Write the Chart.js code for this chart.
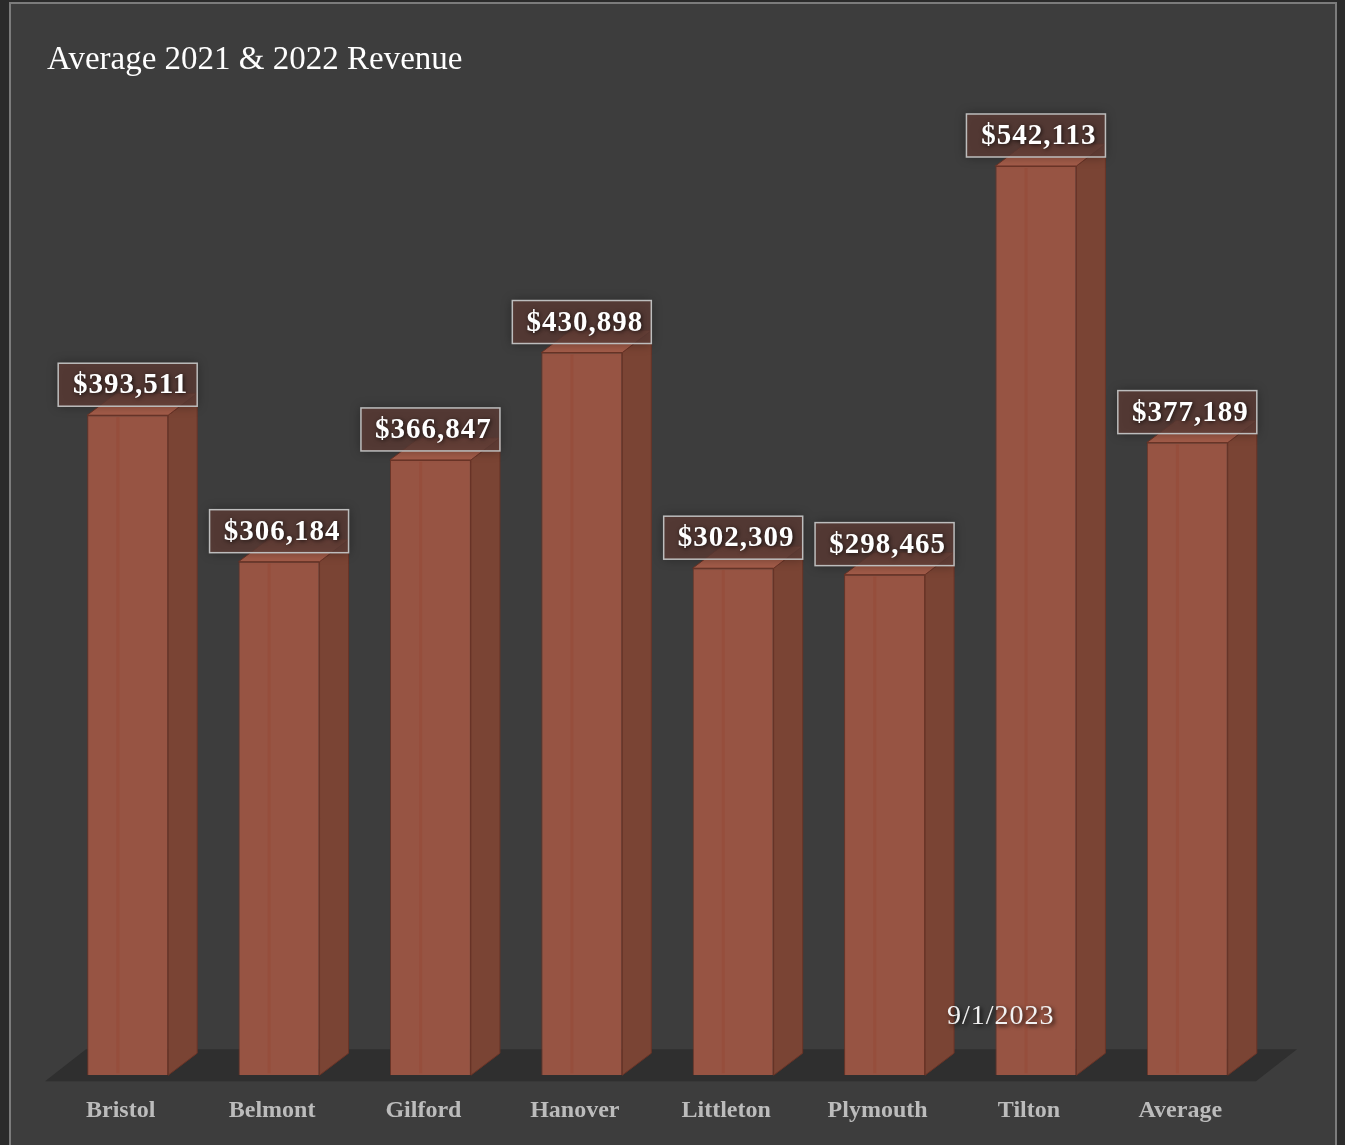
<!DOCTYPE html>
<html>
<head>
<meta charset="utf-8">
<script src="https://cdn.jsdelivr.net/npm/chart.js@4"></script>
<style>
  html, body { margin: 0; padding: 0; background: #2b2b2b; }
  #frame {
    position: absolute; left: 9px; top: 2px;
    width: 1324px; height: 1143px;
    border: 2px solid #7c7c7c; border-bottom: none;
    background: #3d3d3d;
  }
  #chart { display: block; }
</style>
</head>
<body>
<div id="frame"><canvas id="chart" width="1324" height="1143"></canvas></div>
<script>
/* ══════════════════════════════════════
   Average 2021 & 2022 Revenue — 3D bars
══════════════════════════════════════ */

const towns   = ['Bristol', 'Belmont', 'Gilford', 'Hanover', 'Littleton', 'Plymouth', 'Tilton', 'Average'];
const revenue = [393511, 306184, 366847, 430898, 302309, 298465, 542113, 377189];
const titleText = 'Average 2021 & 2022 Revenue';
const dateText  = '9/1/2023';

// ── STYLE ─────────────────────────────
const FRONT   = '#975443';
const SIDE    = '#7a4434';
const TOP     = '#a35c49';
const EDGE    = '#6a3427';
const DEPTH   = { dx: 29, dy: -22 };   // bar extrusion
const FLOOR   = { dx: 41, dy: -32 };   // floor extrusion
const SERIF   = '"Liberation Serif", "DejaVu Serif", serif';

const money = v => '$' + v.toLocaleString('en-US');

// ── TITLE + FLOOR ─────────────────────
const floorPlugin = {
  id: 'floor',
  beforeDatasetsDraw(chart) {
    const { ctx, chartArea: a, scales: { y } } = chart;

    ctx.save();
    ctx.font = `33px ${SERIF}`;
    ctx.fillStyle = '#ffffff';
    ctx.textBaseline = 'alphabetic';
    ctx.fillText(titleText, 36, 65);
    ctx.restore();

    const base = y.getPixelForValue(0);
    const fy = base + 6;
    const fl = a.left - 7, fr = a.right - 7;
    ctx.save();
    ctx.fillStyle = '#2f2f2f';
    ctx.beginPath();
    ctx.moveTo(fl, fy);
    ctx.lineTo(fl + FLOOR.dx, fy + FLOOR.dy);
    ctx.lineTo(fr + FLOOR.dx, fy + FLOOR.dy);
    ctx.lineTo(fr, fy);
    ctx.closePath();
    ctx.fill();
    ctx.restore();
  },
};

// ── 3D FACES + VALUE BOXES ────────────
const cubePlugin = {
  id: 'cube',
  beforeDatasetsDraw(chart) {
    const { ctx } = chart;
    const meta = chart.getDatasetMeta(0);
    ctx.save();
    ctx.lineWidth = 1;
    ctx.strokeStyle = EDGE;
    meta.data.forEach(bar => {
      const l = bar.x - bar.width / 2, r = bar.x + bar.width / 2;
      const t = bar.y, b = bar.base;
      // side
      ctx.fillStyle = SIDE;
      ctx.beginPath();
      ctx.moveTo(r, t);
      ctx.lineTo(r + DEPTH.dx, t + DEPTH.dy);
      ctx.lineTo(r + DEPTH.dx, b + DEPTH.dy);
      ctx.lineTo(r, b);
      ctx.closePath();
      ctx.fill(); ctx.stroke();
      // top
      ctx.fillStyle = TOP;
      ctx.beginPath();
      ctx.moveTo(l, t);
      ctx.lineTo(l + DEPTH.dx, t + DEPTH.dy);
      ctx.lineTo(r + DEPTH.dx, t + DEPTH.dy);
      ctx.lineTo(r, t);
      ctx.closePath();
      ctx.fill(); ctx.stroke();
    });
    ctx.restore();
  },
  afterDatasetsDraw(chart) {
    const { ctx } = chart;
    const meta = chart.getDatasetMeta(0);
    ctx.save();
    // faint reflection line on the front faces
    meta.data.forEach(bar => {
      const l = bar.x - bar.width / 2;
      ctx.fillStyle = 'rgba(150,70,50,0.35)';
      ctx.fillRect(l + bar.width * 0.36, bar.y + 2, 3, bar.base - bar.y - 4);
    });

    ctx.font = `bold 29px ${SERIF}`;
    ctx.letterSpacing = '1px';
    ctx.textAlign = 'center';
    ctx.textBaseline = 'middle';
    meta.data.forEach((bar, i) => {
      const w = 139, h = 43;
      const bx = bar.x - w / 2, by = bar.y - 9 - h;
      ctx.shadowColor = 'rgba(0,0,0,0.45)';
      ctx.shadowBlur = 10;
      ctx.fillStyle = 'rgba(92,60,54,0.8)';
      ctx.fillRect(bx, by, w, h);
      ctx.shadowBlur = 0;
      ctx.strokeStyle = '#bdbdbd';
      ctx.lineWidth = 1.5;
      ctx.strokeRect(bx, by, w, h);
      ctx.shadowColor = 'rgba(0,0,0,0.7)';
      ctx.shadowBlur = 4;
      ctx.shadowOffsetX = 1;
      ctx.shadowOffsetY = 1;
      ctx.fillStyle = '#ffffff';
      ctx.fillText(money(revenue[i]), bar.x + 3, by + h / 2 + 1);
      ctx.shadowOffsetX = 0;
      ctx.shadowOffsetY = 0;
      ctx.shadowBlur = 0;
    });

    // date stamp
    ctx.font = `28px ${SERIF}`;
    ctx.letterSpacing = '1px';
    ctx.textAlign = 'left';
    ctx.textBaseline = 'alphabetic';
    ctx.shadowColor = 'rgba(0,0,0,0.8)';
    ctx.shadowBlur = 4;
    ctx.shadowOffsetX = 2;
    ctx.shadowOffsetY = 2;
    ctx.fillStyle = '#f2f2f2';
    ctx.fillText(dateText, 936, 1020);
    ctx.restore();
  },
};

new Chart(document.getElementById('chart'), {
  type: 'bar',
  data: {
    labels: towns,
    datasets: [{
      data: revenue,
      backgroundColor: FRONT,
      borderColor: EDGE,
      borderWidth: 1,
      barPercentage: 0.535,
      categoryPercentage: 1,
    }],
  },
  options: {
    responsive: false,
    animation: false,
    layout: { padding: { top: 132, left: 41, right: 72, bottom: 9 } },
    plugins: {
      legend: { display: false },
      tooltip: { enabled: false },
      title: { display: false },
    },
    scales: {
      x: {
        grid: { display: false },
        border: { display: false },
        ticks: {
          color: '#bcbcbc',
          font: { family: SERIF, size: 24, weight: 'bold' },
          labelOffset: -7,
          padding: 13,
        },
      },
      y: {
        display: false,
        min: 0,
        max: 560000,
      },
    },
  },
  plugins: [floorPlugin, cubePlugin],
});
</script>
</body>
</html>
